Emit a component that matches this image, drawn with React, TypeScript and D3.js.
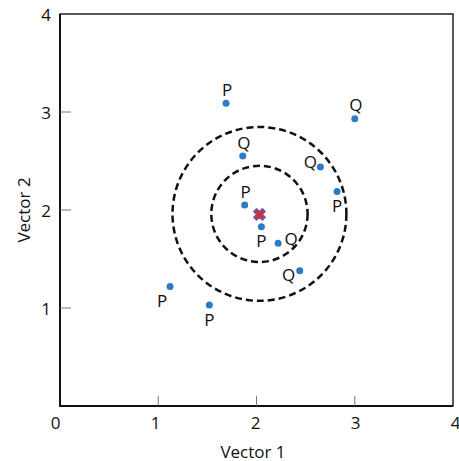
import React, { useEffect, useRef } from "react";
import * as d3 from "d3";

// points
const labels = ["P", "Q", "Q", "Q", "P", "P", "P", "Q", "Q", "P", "P"];
const vector1 = [1.69, 3.0, 1.86, 2.65, 2.82, 1.88, 2.05, 2.22, 2.44, 1.12, 1.52];
const vector2 = [3.09, 2.93, 2.55, 2.44, 2.19, 2.05, 1.83, 1.66, 1.38, 1.22, 1.03];
const placement = ["above", "above", "above", "left", "below", "above", "below", "right", "lowLeft", "belowLeft", "below"];

const centre = [2.03, 1.96];
const radii = [0.49, 0.885];
const ticks = [0, 1, 2, 3, 4];

const offsets: Record<string, [number, number]> = {
  above: [1, -14],
  below: [0, 14],
  left: [-10, -5],
  right: [13, -5],
  lowLeft: [-11, 4],
  belowLeft: [-8, 14],
};

const App = () => {
  const svgRef = useRef<SVGSVGElement>(null);

  useEffect(() => {
    const width = 459;
    const height = 461;
    const x = d3.scaleLinear().domain([0, 4]).range([60, 453]);
    const y = d3.scaleLinear().domain([0, 4]).range([406, 14]);

    const svg = d3.select(svgRef.current);
    svg.selectAll("*").remove();
    svg
      .attr("width", width)
      .attr("height", height)
      .style("font-family", "'Open Sans', sans-serif")
      .style("font-size", "17px");

    // frame
    svg
      .append("rect")
      .attr("x", x(0))
      .attr("y", y(4))
      .attr("width", x(4) - x(0))
      .attr("height", y(0) - y(4))
      .attr("fill", "none")
      .attr("stroke", "#222")
      .attr("stroke-width", 1.5);
    svg
      .append("path")
      .attr("d", `M${x(0)},${y(4)}V${y(0)}H${x(4)}`)
      .attr("fill", "none")
      .attr("stroke", "#111")
      .attr("stroke-width", 2);

    // inward ticks
    const inner = [1, 2, 3];
    svg
      .append("g")
      .selectAll("line")
      .data(inner)
      .join("line")
      .attr("x1", (d) => x(d))
      .attr("x2", (d) => x(d))
      .attr("y1", y(0))
      .attr("y2", y(0) - 10)
      .attr("stroke", "#777");
    svg
      .append("g")
      .selectAll("line")
      .data(inner)
      .join("line")
      .attr("x1", x(0))
      .attr("x2", x(0) + 11)
      .attr("y1", (d) => y(d))
      .attr("y2", (d) => y(d))
      .attr("stroke", "#777");

    svg
      .append("g")
      .selectAll("text")
      .data(ticks)
      .join("text")
      .attr("x", (d) => x(d) + (d - 2) * 1.75 - 1)
      .attr("y", y(0) + 16)
      .attr("text-anchor", "middle")
      .attr("dominant-baseline", "central")
      .attr("fill", "#111")
      .text((d) => d);
    svg
      .append("g")
      .selectAll("text")
      .data(ticks.slice(1))
      .join("text")
      .attr("x", x(0) - 14)
      .attr("y", (d) => y(d))
      .attr("text-anchor", "middle")
      .attr("dominant-baseline", "central")
      .attr("fill", "#111")
      .text((d) => d);

    svg
      .append("text")
      .attr("x", 253)
      .attr("y", 451)
      .attr("text-anchor", "middle")
      .attr("dominant-baseline", "central")
      .attr("fill", "#111")
      .text("Vector 1");
    svg
      .append("text")
      .attr("transform", `translate(23,${y(2)}) rotate(-90)`)
      .attr("text-anchor", "middle")
      .attr("dominant-baseline", "central")
      .attr("fill", "#111")
      .text("Vector 2");

    // dashed circles
    svg
      .append("g")
      .selectAll("circle")
      .data(radii)
      .join("circle")
      .attr("cx", x(centre[0]))
      .attr("cy", y(centre[1]))
      .attr("r", (d) => x(d) - x(0))
      .attr("fill", "none")
      .attr("stroke", "#111")
      .attr("stroke-width", 2.5)
      .attr("stroke-dasharray", "7,4");

    const idx = d3.range(labels.length);
    svg
      .append("g")
      .selectAll("circle")
      .data(idx)
      .join("circle")
      .attr("cx", (i) => x(vector1[i]))
      .attr("cy", (i) => y(vector2[i]))
      .attr("r", 3.5)
      .attr("fill", "#2b7bc6");

    svg
      .append("g")
      .selectAll("text")
      .data(idx)
      .join("text")
      .attr("x", (i) => x(vector1[i]) + offsets[placement[i]][0])
      .attr("y", (i) => y(vector2[i]) + offsets[placement[i]][1])
      .attr("text-anchor", "middle")
      .attr("dominant-baseline", "central")
      .attr("fill", "#111")
      .text((i) => labels[i]);

    // centroid marker
    svg
      .append("path")
      .attr("d", d3.symbol(d3.symbolCross, 85)())
      .attr(
        "transform",
        `translate(${x(centre[0])},${y(centre[1]) + 0.5}) rotate(45)`
      )
      .attr("fill", "#d0323a")
      .attr("stroke", "#6a5aa8")
      .attr("stroke-width", 1.2);
  }, []);

  return (
    <svg
      ref={svgRef}
      style={{ position: "absolute", left: 0, top: 0, display: "block" }}
    ></svg>
  );
};

export default App;
